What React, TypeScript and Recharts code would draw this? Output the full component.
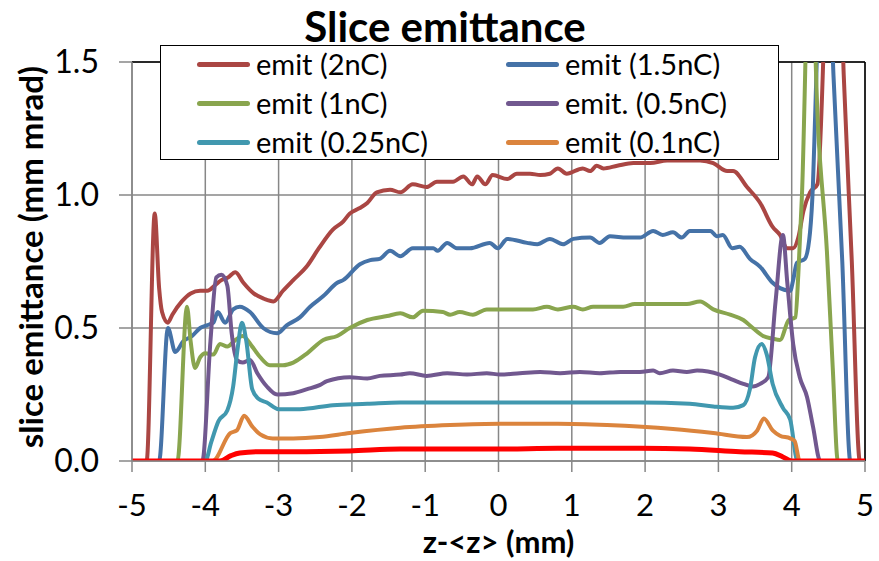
import { LineChart, Line, XAxis, YAxis, CartesianGrid, ReferenceLine } from "recharts";

// tick values
const zTicks = [-5, -4, -3, -2, -1, 0, 1, 2, 3, 4, 5];
const emitTicks = [0, 0.5, 1, 1.5];

// emit (2nC)
const z2nC = [-5, -4.8, -4.69, -4.63, -4.59, -4.51, -4.45, -4.32, -4.2, -4.07, -3.97, -3.87, -3.78, -3.69, -3.59, -3.48, -3.34, -3.2, -3.07, -2.94, -2.8, -2.62, -2.45, -2.26, -2.12, -2.03, -1.9, -1.79, -1.66, -1.48, -1.34, -1.17, -0.98, -0.84, -0.62, -0.48, -0.36, -0.29, -0.18, -0.08, 0.12, 0.25, 0.43, 0.57, 0.7, 0.81, 0.93, 1.15, 1.25, 1.34, 1.43, 1.62, 1.84, 2.07, 2.3, 2.52, 2.75, 2.93, 3.12, 3.2, 3.39, 3.57, 3.74, 3.84, 3.94, 4.02, 4.09, 4.16, 4.25, 4.35, 4.58, 4.71, 4.82, 4.93, 5];
const emit2nC = [0, 0, 0.93, 0.65, 0.56, 0.52, 0.55, 0.6, 0.63, 0.64, 0.64, 0.66, 0.68, 0.69, 0.71, 0.67, 0.63, 0.61, 0.6, 0.64, 0.68, 0.73, 0.8, 0.87, 0.9, 0.93, 0.95, 0.97, 1.01, 1.02, 1.01, 1.04, 1.03, 1.05, 1.05, 1.07, 1.04, 1.07, 1.04, 1.075, 1.06, 1.08, 1.08, 1.075, 1.08, 1.1, 1.08, 1.1, 1.09, 1.11, 1.1, 1.11, 1.12, 1.12, 1.13, 1.13, 1.13, 1.12, 1.09, 1.09, 1.03, 0.97, 0.88, 0.85, 0.8, 0.8, 0.84, 0.94, 1.01, 1.04, 2.6, 1.45, 0.75, 0, 0];

// emit (1.5nC)
const z15nC = [-5, -4.63, -4.51, -4.41, -4.3, -4.18, -4.07, -3.98, -3.89, -3.83, -3.73, -3.62, -3.53, -3.39, -3.21, -3.02, -2.89, -2.71, -2.57, -2.39, -2.2, -2.12, -1.89, -1.75, -1.62, -1.48, -1.34, -1.17, -1.03, -0.89, -0.83, -0.7, -0.57, -0.39, -0.12, -0.01, 0.12, 0.39, 0.53, 0.7, 0.88, 1.02, 1.25, 1.38, 1.52, 1.75, 1.93, 2.11, 2.24, 2.38, 2.5, 2.61, 2.89, 2.98, 3.06, 3.19, 3.29, 3.43, 3.57, 3.74, 3.84, 3.98, 4.02, 4.07, 4.18, 4.25, 4.29, 4.32, 4.45, 4.57, 4.69, 4.8, 5];
const emit15nC = [0, 0, 0.5, 0.41, 0.45, 0.47, 0.5, 0.51, 0.52, 0.56, 0.52, 0.57, 0.58, 0.56, 0.5, 0.48, 0.51, 0.54, 0.58, 0.62, 0.67, 0.68, 0.74, 0.755, 0.76, 0.79, 0.77, 0.8, 0.8, 0.8, 0.79, 0.82, 0.8, 0.8, 0.82, 0.8, 0.835, 0.82, 0.815, 0.835, 0.815, 0.835, 0.84, 0.82, 0.845, 0.84, 0.84, 0.865, 0.85, 0.86, 0.84, 0.865, 0.865, 0.845, 0.85, 0.8, 0.805, 0.76, 0.73, 0.67, 0.65, 0.64, 0.68, 0.745, 0.76, 0.86, 1.04, 1.3, 2.3, 1.45, 0.75, 0, 0];

// emit (1nC)
const z1nC = [-5, -4.38, -4.25, -4.2, -4.14, -4.07, -4.0, -3.89, -3.8, -3.7, -3.59, -3.49, -3.36, -3.25, -3.12, -2.94, -2.8, -2.61, -2.39, -2.2, -2.03, -1.79, -1.52, -1.34, -1.17, -1.03, -0.76, -0.66, -0.53, -0.35, -0.16, 0.12, 0.47, 0.66, 0.81, 1.02, 1.15, 1.29, 1.7, 1.86, 2.07, 2.57, 2.75, 2.93, 3.16, 3.34, 3.47, 3.61, 3.74, 3.84, 3.96, 4.05, 4.09, 4.14, 4.25, 4.36, 4.48, 4.56, 4.63, 5];
const emit1nC = [0, 0, 0.58, 0.45, 0.35, 0.39, 0.405, 0.4, 0.44, 0.43, 0.455, 0.47, 0.43, 0.39, 0.36, 0.36, 0.37, 0.405, 0.455, 0.47, 0.5, 0.53, 0.545, 0.555, 0.54, 0.565, 0.56, 0.55, 0.56, 0.55, 0.57, 0.57, 0.57, 0.58, 0.57, 0.58, 0.57, 0.58, 0.58, 0.59, 0.59, 0.59, 0.6, 0.57, 0.55, 0.53, 0.5, 0.47, 0.46, 0.455, 0.53, 0.54, 0.7, 1.0, 2.0, 1.25, 0.79, 0.35, 0, 0];

// emit. (0.5nC)
const z05nC = [-5, -4.04, -3.93, -3.85, -3.78, -3.7, -3.64, -3.57, -3.49, -3.39, -3.29, -3.16, -3.02, -2.8, -2.61, -2.44, -2.34, -2.03, -1.79, -1.62, -1.34, -1.21, -0.98, -0.7, -0.43, -0.16, 0.02, 0.29, 0.57, 0.84, 1.11, 1.38, 1.66, 1.93, 2.11, 2.2, 2.38, 2.57, 2.71, 3.02, 3.2, 3.34, 3.47, 3.57, 3.68, 3.78, 3.88, 3.94, 4.02, 4.11, 4.21, 4.29, 4.39, 5];
const emit05nC = [0, 0, 0.45, 0.69, 0.7, 0.66, 0.48, 0.38, 0.37, 0.38, 0.33, 0.28, 0.25, 0.255, 0.27, 0.285, 0.3, 0.315, 0.31, 0.32, 0.325, 0.33, 0.32, 0.33, 0.325, 0.33, 0.325, 0.33, 0.335, 0.33, 0.335, 0.33, 0.335, 0.335, 0.34, 0.33, 0.34, 0.335, 0.34, 0.325, 0.305, 0.29, 0.28, 0.29, 0.315, 0.6, 0.85, 0.67, 0.44, 0.315, 0.24, 0.13, 0, 0];

// emit (0.25nC)
const z025nC = [-5, -4.0, -3.92, -3.82, -3.7, -3.62, -3.56, -3.5, -3.44, -3.36, -3.28, -3.16, -3.0, -2.71, -2.26, -1.79, -1.34, -0.5, 0.5, 1.93, 2.61, 2.93, 3.2, 3.34, 3.43, 3.5, 3.59, 3.66, 3.74, 3.88, 3.98, 4.08, 5];
const emit025nC = [0, 0, 0.07, 0.15, 0.19, 0.28, 0.42, 0.52, 0.45, 0.27, 0.235, 0.22, 0.195, 0.195, 0.21, 0.215, 0.22, 0.22, 0.22, 0.22, 0.215, 0.205, 0.2, 0.21, 0.27, 0.39, 0.44, 0.4, 0.29, 0.2, 0.155, 0, 0];

// emit (0.1nC)
const z01nC = [-5, -3.9, -3.66, -3.57, -3.47, -3.36, -3.25, -3.08, -2.8, -2.44, -2.03, -1.34, -0.66, 0.02, 0.81, 1.48, 2.38, 2.93, 3.39, 3.53, 3.62, 3.74, 3.84, 3.98, 4.04, 4.11, 5];
const emit01nC = [0, 0, 0.105, 0.115, 0.17, 0.13, 0.1, 0.085, 0.085, 0.09, 0.105, 0.125, 0.135, 0.14, 0.14, 0.135, 0.12, 0.105, 0.09, 0.115, 0.16, 0.115, 0.095, 0.085, 0.075, 0, 0];

// unlabelled red curve
const zRed = [-5, -3.8, -3.65, -3.53, -3.25, -2.8, -2.03, -1.34, 0, 0.81, 1.93, 2.61, 3.29, 3.74, 3.88, 4.0, 5];
const emitRed = [0, 0, 0.02, 0.03, 0.035, 0.035, 0.038, 0.045, 0.045, 0.048, 0.048, 0.045, 0.035, 0.03, 0.015, 0, 0];

const toRows = (zs: number[], vs: number[]) => zs.map((x, i) => ({ x, v: vs[i] }));

const series = [
  { name: "emit (2nC)", color: "#AA4643", rows: toRows(z2nC, emit2nC) },
  { name: "emit (1.5nC)", color: "#4572A7", rows: toRows(z15nC, emit15nC) },
  { name: "emit (1nC)", color: "#89A54E", rows: toRows(z1nC, emit1nC) },
  { name: "emit. (0.5nC)", color: "#71588F", rows: toRows(z05nC, emit05nC) },
  { name: "emit (0.25nC)", color: "#4198AF", rows: toRows(z025nC, emit025nC) },
  { name: "emit (0.1nC)", color: "#DB843D", rows: toRows(z01nC, emit01nC) },
];
const redRows = toRows(zRed, emitRed);

const GRID = "#878787";
const FONT = "Lato, 'Open Sans', sans-serif";

function ChartLegend() {
  return (
    <div
      style={{
        position: "absolute",
        left: 160,
        top: 45,
        width: 617,
        height: 113,
        border: "1.5px solid #000",
        background: "#fff",
      }}
    >
      {series.map((s, i) => {
        const col = i % 2;
        const row = Math.floor(i / 2);
        return (
          <div
            key={s.name}
            style={{
              position: "absolute",
              left: col === 0 ? 36 : 345,
              top: row * 39 + 18 - 20,
              height: 40,
              display: "flex",
              alignItems: "center",
              whiteSpace: "nowrap",
            }}
          >
            <div style={{ width: 53, height: 5, borderRadius: 3, background: s.color }} />
            <span style={{ marginLeft: 6, fontSize: 29, lineHeight: "40px", color: "#000" }}>{s.name}</span>
          </div>
        );
      })}
    </div>
  );
}

export default function App() {
  return (
    <div
      style={{
        position: "absolute",
        left: 0,
        top: 0,
        width: 879,
        height: 561,
        background: "#fff",
        fontFamily: FONT,
      }}
    >
      <LineChart width={879} height={561} margin={{ top: 62, right: 14, bottom: 0, left: 0 }}>
        <CartesianGrid stroke={GRID} strokeWidth={1.5} />
        <XAxis
          type="number"
          dataKey="x"
          domain={[-5, 5]}
          ticks={zTicks}
          allowDataOverflow
          height={100}
          stroke={GRID}
          strokeWidth={1.5}
          tickSize={11}
          tickMargin={22}
          tick={{ fill: "#000", fontSize: 31, fontFamily: FONT }}
          label={(p: any) => (
            <text
              x={p.viewBox.x + p.viewBox.width / 2}
              y={541}
              textAnchor="middle"
              dominantBaseline="central"
              fontSize={31}
              fontWeight={700}
              fontFamily={FONT}
              fill="#000"
            >
              {"z-<z> (mm)"}
            </text>
          )}
        />
        <YAxis
          type="number"
          dataKey="v"
          domain={[0, 1.5]}
          ticks={emitTicks}
          allowDataOverflow
          width={132}
          stroke={GRID}
          strokeWidth={1.5}
          tickSize={13}
          tickMargin={20}
          tickFormatter={(v: number) => v.toFixed(1)}
          tick={{ fill: "#000", fontSize: 32, fontFamily: FONT }}
          label={() => (
            <text
              x={30}
              y={257}
              transform="rotate(-90 30 257)"
              textAnchor="middle"
              dominantBaseline="central"
              fontSize={33}
              fontWeight={700}
              fontFamily={FONT}
              fill="#000"
            >
              slice emittance (mm mrad)
            </text>
          )}
        />
        <ReferenceLine y={1.5} stroke="#000" strokeWidth={1.5} />
        <ReferenceLine x={5} stroke="#000" strokeWidth={1.5} />
        {series.map((s) => (
          <Line
            key={s.name}
            data={s.rows}
            dataKey="v"
            name={s.name}
            type="monotone"
            stroke={s.color}
            strokeWidth={4}
            dot={false}
            activeDot={false}
            isAnimationActive={false}
          />
        ))}
        <Line
          data={redRows}
          dataKey="v"
          name="red"
          type="monotone"
          stroke="#FF0000"
          strokeWidth={5}
          dot={false}
          activeDot={false}
          isAnimationActive={false}
        />
      </LineChart>
      <div
        style={{
          position: "absolute",
          left: 245,
          top: 5,
          width: 400,
          textAlign: "center",
          fontSize: 42,
          lineHeight: "42px",
          fontWeight: 700,
          color: "#000",
        }}
      >
        Slice emittance
      </div>
      <ChartLegend />
    </div>
  );
}
